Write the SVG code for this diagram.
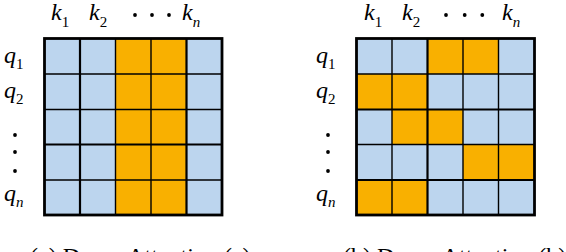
<svg xmlns="http://www.w3.org/2000/svg" width="566" height="252" viewBox="0 0 566 252">
<style>
.b{fill:#BCD5EE}
.o{fill:#F9B000}
.ln{stroke:#000;stroke-width:1.4;fill:none}
.tk{stroke:#000;stroke-width:2.2;fill:none}
.bd{stroke:#000;stroke-width:2.8;fill:none}
.v{font-family:"Liberation Serif","DejaVu Serif",serif;font-style:italic;font-size:24px;fill:#000}
.s{font-family:"Liberation Serif","DejaVu Serif",serif;font-style:normal;font-size:15px}
.si{font-family:"Liberation Serif","DejaVu Serif",serif;font-style:italic;font-size:15px}
.cap{font-family:"Liberation Serif","DejaVu Serif",serif;font-size:24px;fill:#000}
.dot{fill:#000}
</style>
<g id="left-matrix">
<rect class="b" x="44.5" y="38.5" width="71" height="176.5"/>
<rect class="o" x="115.5" y="38.5" width="71" height="176.5"/>
<rect class="b" x="186.5" y="38.5" width="35.5" height="176.5"/>
<path class="ln" d="M115.5 38.5V215M151 38.5V215M44.5 74H222M44.5 109.5H222M44.5 180H222"/>
<path class="tk" d="M80 38.5V215M186.5 38.5V215M44.5 144.5H222"/>
<rect class="bd" x="44.5" y="38.5" width="177.5" height="176.5"/>
</g>
<g id="right-matrix">
<rect class="b" x="356.5" y="38.5" width="178" height="176.5"/>
<rect class="o" x="427.5" y="38.5" width="71" height="35.5"/>
<rect class="o" x="356.5" y="74" width="71" height="35.5"/>
<rect class="o" x="392" y="109.5" width="71" height="35"/>
<rect class="o" x="463" y="144.5" width="71.5" height="35.5"/>
<rect class="o" x="356.5" y="180" width="71" height="35"/>
<path class="ln" d="M392 38.5V215M463 38.5V215M498.5 38.5V215M356.5 74H534.5M356.5 144.5H534.5"/>
<path class="tk" d="M427.5 38.5V215M356.5 109.5H534.5M356.5 180H534.5"/>
<rect class="bd" x="356.5" y="38.5" width="178" height="176.5"/>
</g>
<g id="left-labels">
<text class="v" x="51" y="20">k<tspan class="s" dy="7">1</tspan></text>
<text class="v" x="89" y="20">k<tspan class="s" dy="7">2</tspan></text>
<circle class="dot" cx="135" cy="15" r="1.9"/><circle class="dot" cx="152" cy="15" r="1.9"/><circle class="dot" cx="169" cy="15" r="1.9"/>
<text class="v" x="182" y="20">k<tspan class="si" dy="7">n</tspan></text>
<text class="v" x="4" y="63">q<tspan class="s" dy="6">1</tspan></text>
<text class="v" x="4" y="98">q<tspan class="s" dy="6">2</tspan></text>
<circle class="dot" cx="15" cy="135" r="1.9"/><circle class="dot" cx="15" cy="152" r="1.9"/><circle class="dot" cx="15" cy="171" r="1.9"/>
<text class="v" x="4" y="201">q<tspan class="si" dy="6">n</tspan></text>
</g>
<g id="right-labels">
<text class="v" x="364" y="20">k<tspan class="s" dy="7">1</tspan></text>
<text class="v" x="402" y="20">k<tspan class="s" dy="7">2</tspan></text>
<circle class="dot" cx="446" cy="15" r="1.9"/><circle class="dot" cx="464.7" cy="15" r="1.9"/><circle class="dot" cx="482.3" cy="15" r="1.9"/>
<text class="v" x="502" y="20">k<tspan class="si" dy="7">n</tspan></text>
<text class="v" x="316" y="63">q<tspan class="s" dy="6">1</tspan></text>
<text class="v" x="316" y="98">q<tspan class="s" dy="6">2</tspan></text>
<circle class="dot" cx="328" cy="135" r="1.9"/><circle class="dot" cx="328" cy="152" r="1.9"/><circle class="dot" cx="328" cy="171" r="1.9"/>
<text class="v" x="316" y="201">q<tspan class="si" dy="6">n</tspan></text>
</g>
<g id="captions">
<text class="cap" x="30" y="264">(a) Dense Attention (a)</text>
<text class="cap" x="343" y="264">(b) Dense Attention (b)</text>
</g>
</svg>
